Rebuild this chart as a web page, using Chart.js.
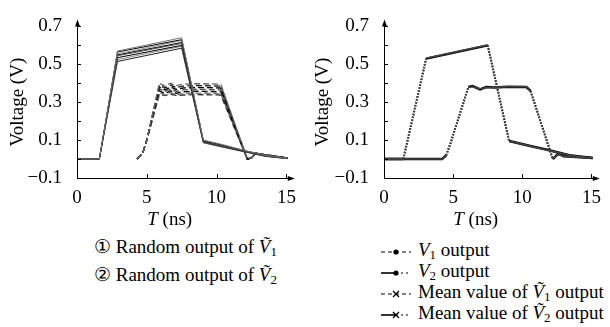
<!DOCTYPE html>
<html>
<head>
<meta charset="utf-8">
<script src="https://cdn.jsdelivr.net/npm/chart.js@4.4.0/dist/chart.umd.min.js"></script>
<style>
  body { margin: 0; width: 610px; height: 327px; background: #fff; position: relative; overflow: hidden;
         font-family: "Liberation Serif", "DejaVu Serif", serif; color: #000; }
  .box { position: absolute; top: 0; width: 305px; height: 232px; }
  .leg { position: absolute; font-size: 19px; white-space: nowrap; line-height: 20px; }
  .leg i { font-style: italic; }
  .leg sub { font-size: 13px; vertical-align: -3px; line-height: 0; }
  .leg svg { vertical-align: middle; margin-right: 6px; }
</style>
</head>
<body>
<div class="box" style="left:0"><canvas id="left"></canvas></div>
<div class="box" style="left:305px"><canvas id="right"></canvas></div>

<div class="leg" style="left:94px;top:237px">&#9312; Random output of <i>&#7804;</i><sub>1</sub></div>
<div class="leg" style="left:94px;top:265px">&#9313; Random output of <i>&#7804;</i><sub>2</sub></div>

<div class="leg" style="left:380px;top:240px"><svg width="32" height="10"><line x1="1" y1="5" x2="31" y2="5" stroke="#000" stroke-width="1.2" stroke-dasharray="4,3"/><circle cx="16" cy="5" r="2.6" fill="#000"/></svg><i>V</i><sub>1</sub> output</div>
<div class="leg" style="left:380px;top:261px"><svg width="32" height="10"><line x1="1" y1="5" x2="16" y2="5" stroke="#000" stroke-width="1.6"/><line x1="16" y1="5" x2="31" y2="5" stroke="#000" stroke-width="1.2" stroke-dasharray="2,3"/><circle cx="16" cy="5" r="2.6" fill="#000"/></svg><i>V</i><sub>2</sub> output</div>
<div class="leg" style="left:380px;top:282px"><svg width="32" height="10"><line x1="1" y1="5" x2="31" y2="5" stroke="#000" stroke-width="1.2" stroke-dasharray="4,3"/><path d="M13 2 L19 8 M19 2 L13 8" stroke="#000" stroke-width="1.3"/></svg>Mean value of <i>&#7804;</i><sub>1</sub> output</div>
<div class="leg" style="left:380px;top:303px"><svg width="32" height="10"><line x1="1" y1="5" x2="16" y2="5" stroke="#000" stroke-width="1.6"/><line x1="16" y1="5" x2="31" y2="5" stroke="#000" stroke-width="1.2" stroke-dasharray="2,3"/><path d="M13 2 L19 8 M19 2 L13 8" stroke="#000" stroke-width="1.3"/></svg>Mean value of <i>&#7804;</i><sub>2</sub> output</div>

<script>
// axis ticks
var xTicks = [0, 5, 10, 15];
var yTicks = [-0.1, 0, 0.1, 0.2, 0.3, 0.4, 0.5, 0.6, 0.7];
var yLabelled = [-0.1, 0.1, 0.3, 0.5, 0.7];

// left plot: random outputs of V1 (time in ns)
var tRand1 = [0, 1.6, 2.9, 7.5, 9.05, 10.5, 12.0, 13.5, 15.1];
var rand1 = [
  [0, 0, 0.570, 0.640, 0.100, 0.075, 0.045, 0.020, 0.005],
  [0, 0, 0.565, 0.630, 0.098, 0.072, 0.044, 0.020, 0.005],
  [0, 0, 0.555, 0.625, 0.096, 0.070, 0.043, 0.019, 0.004],
  [0, 0, 0.550, 0.615, 0.094, 0.068, 0.042, 0.018, 0.004],
  [0, 0, 0.545, 0.610, 0.092, 0.066, 0.041, 0.017, 0.003],
  [0, 0, 0.535, 0.600, 0.090, 0.065, 0.040, 0.016, 0.003],
  [0, 0, 0.525, 0.595, 0.088, 0.064, 0.039, 0.015, 0.002],
  [0, 0, 0.515, 0.585, 0.086, 0.062, 0.038, 0.014, 0.002]
];

// left plot: random outputs of V2
var tRand2 = [4.3, 4.7, 5.0, 5.9, 6.3, 6.7, 7.1, 7.6, 8.5, 10.3, 12.2, 12.5, 12.8, 15.1];
var rand2 = [
  [0, 0.03, 0.10, 0.400, 0.385, 0.400, 0.387, 0.395, 0.398, 0.395, 0, 0.006, 0.030, 0.005],
  [0, 0.03, 0.10, 0.390, 0.375, 0.390, 0.377, 0.385, 0.388, 0.385, 0, 0.006, 0.030, 0.005],
  [0, 0.03, 0.10, 0.380, 0.365, 0.380, 0.367, 0.375, 0.378, 0.375, 0, 0.006, 0.030, 0.005],
  [0, 0.03, 0.10, 0.370, 0.355, 0.370, 0.357, 0.365, 0.368, 0.365, 0, 0.006, 0.030, 0.005],
  [0, 0.03, 0.10, 0.360, 0.345, 0.360, 0.347, 0.355, 0.358, 0.355, 0, 0.006, 0.030, 0.005],
  [0, 0.03, 0.10, 0.350, 0.338, 0.350, 0.340, 0.345, 0.348, 0.345, 0, 0.006, 0.030, 0.005],
  [0, 0.03, 0.10, 0.342, 0.335, 0.342, 0.336, 0.338, 0.340, 0.338, 0, 0.006, 0.030, 0.005]
];

// right plot: deterministic outputs and means
var tV1 = [0, 1.4, 3.05, 7.5, 9.05, 10.5, 11.8, 13.4, 15.1];
var v1Out = [0, 0, 0.530, 0.600, 0.095, 0.070, 0.049, 0.020, 0.005];
var v1Mean = [0, 0, 0.532, 0.602, 0.094, 0.070, 0.048, 0.020, 0.005];
var tV2 = [0, 4.2, 4.5, 4.8, 6.1, 6.4, 6.95, 7.4, 8.0, 9.0, 10.3, 10.6, 12.2, 12.6, 13.0, 15.1];
var v2Out = [0, 0, 0.020, 0.080, 0.380, 0.385, 0.367, 0.380, 0.377, 0.382, 0.380, 0.360, 0, 0.028, 0.015, 0.005];
var v2Mean = [0, 0, 0.020, 0.082, 0.378, 0.383, 0.370, 0.378, 0.379, 0.381, 0.381, 0.358, 0.002, 0.025, 0.014, 0.005];

var FONT = '"Liberation Serif", "DejaVu Serif", serif';

function pts(t, v) {
  return t.map(function(x, i) { return { x: x, y: v[i] }; });
}

function steep(ctx) {
  return Math.abs(ctx.p1.y - ctx.p0.y) > 1.2 * Math.abs(ctx.p1.x - ctx.p0.x);
}

// axis lines, arrows, inward ticks and the x title
var axisDeco = {
  id: 'axisDeco',
  afterDraw: function(chart) {
    var c = chart.ctx, a = chart.chartArea;
    var xs = chart.scales.x, ys = chart.scales.y;
    c.save();
    c.strokeStyle = '#000';
    c.fillStyle = '#000';
    c.lineWidth = 1;
    c.beginPath();
    c.moveTo(a.left + 0.5, a.bottom);
    c.lineTo(a.left + 0.5, a.top - 2);
    c.moveTo(a.left, a.bottom + 0.5);
    c.lineTo(a.right + 2, a.bottom + 0.5);
    xTicks.forEach(function(v) {
      var px = Math.round(xs.getPixelForValue(v)) + 0.5;
      c.moveTo(px, a.bottom);
      c.lineTo(px, a.bottom - 4);
    });
    yTicks.forEach(function(v) {
      var py = Math.round(ys.getPixelForValue(v)) + 0.5;
      c.moveTo(a.left, py);
      c.lineTo(a.left + 4, py);
    });
    c.stroke();
    // arrows
    c.beginPath();
    c.moveTo(a.left + 0.5, a.top - 7);
    c.lineTo(a.left - 2, a.top);
    c.lineTo(a.left + 3, a.top);
    c.closePath();
    c.moveTo(a.right + 7, a.bottom + 0.5);
    c.lineTo(a.right, a.bottom - 2);
    c.lineTo(a.right, a.bottom + 3);
    c.closePath();
    c.fill();
    // x title: italic T (ns)
    var cx = (xs.getPixelForValue(0) + xs.getPixelForValue(15)) / 2 - 12;
    c.textBaseline = 'middle';
    c.font = 'italic 19px ' + FONT;
    var w1 = c.measureText('T').width;
    c.font = '19px ' + FONT;
    var w2 = c.measureText(' (ns)').width;
    var x0 = cx - (w1 + w2) / 2;
    c.font = 'italic 19px ' + FONT;
    c.fillText('T', x0, 220);
    c.font = '19px ' + FONT;
    c.fillText(' (ns)', x0 + w1, 220);
    c.restore();
  }
};

function makeChart(id, datasets, axisX, padRight) {
  return new Chart(document.getElementById(id), {
    type: 'line',
    data: { datasets: datasets },
    options: {
      responsive: true,
      maintainAspectRatio: false,
      animation: false,
      layout: { padding: { top: 15, right: padRight, left: 0, bottom: 0 } },
      elements: { point: { radius: 0 }, line: { tension: 0 } },
      plugins: { legend: { display: false }, tooltip: { enabled: false } },
      scales: {
        x: {
          type: 'linear',
          min: 0,
          max: 15.1,
          grid: { display: false, drawTicks: false },
          border: { display: false },
          afterBuildTicks: function(s) { s.ticks = xTicks.map(function(v) { return { value: v }; }); },
          afterFit: function(s) { s.height = 54; },
          ticks: { padding: 9, maxRotation: 0, color: '#000', font: { family: FONT, size: 19 } }
        },
        y: {
          min: -0.1,
          max: 0.7,
          grid: { display: false, drawTicks: false },
          border: { display: false },
          afterBuildTicks: function(s) { s.ticks = yTicks.map(function(v) { return { value: v }; }); },
          afterFit: function(s) { s.width = axisX; },
          title: { display: true, text: 'Voltage (V)', color: '#000', padding: { top: 7, bottom: 0 },
                   font: { family: FONT, size: 19 } },
          ticks: {
            padding: 15,
            color: '#000',
            font: { family: FONT, size: 19 },
            callback: function(v) {
              var r = Math.round(v * 10) / 10;
              if (yLabelled.indexOf(r) < 0) return '';
              return r < 0 ? '\u2212' + Math.abs(r).toFixed(1) : r.toFixed(1);
            }
          }
        }
      }
    },
    plugins: [axisDeco]
  });
}

function outSet(t, v, color, w) {
  return {
    data: pts(t, v),
    borderColor: color,
    borderWidth: w,
    segment: {
      borderDash: function(ctx) { return steep(ctx) ? [1.5, 1.5] : undefined; },
      borderWidth: function(ctx) { return steep(ctx) ? 2 : w; }
    }
  };
}

function build() {
  Chart.defaults.font.family = FONT;
  var greys1 = ['#777', '#000', '#999', '#111', '#555', '#000', '#888', '#222'];
  var leftSets = [];
  rand1.forEach(function(v, i) {
    leftSets.push({ data: pts(tRand1, v), borderColor: greys1[i], borderWidth: 1 });
  });
  var greys2 = ['#666', '#222', '#000', '#555', '#111', '#777', '#333'];
  rand2.forEach(function(v, i) {
    leftSets.push({ data: pts(tRand2, v), borderColor: greys2[i], borderWidth: 1.4, borderDash: [6, 3] });
  });
  makeChart('left', leftSets, 77, 15);

  makeChart('right', [
    outSet(tV1, v1Mean, '#444', 1.5),
    outSet(tV2, v2Mean, '#444', 1.5),
    outSet(tV1, v1Out, '#000', 2.5),
    outSet(tV2, v2Out, '#000', 2.5)
  ], 79, 14);
}

Promise.all([
  document.fonts.load('19px "Liberation Serif"'),
  document.fonts.load('italic 19px "Liberation Serif"')
]).then(build, build);
</script>
</body>
</html>
